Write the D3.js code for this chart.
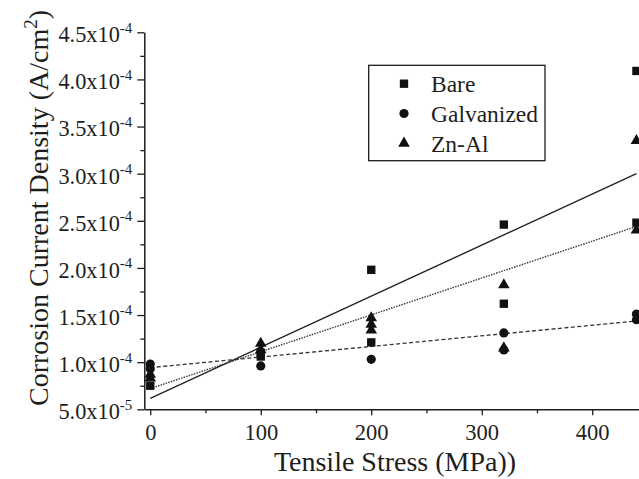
<!DOCTYPE html>
<html>
<head>
<meta charset="utf-8">
<script src="https://cdn.jsdelivr.net/npm/d3@7"></script>
<style>
  html, body { margin: 0; padding: 0; background: #fff; }
  svg text { font-family: "Liberation Serif", "Times New Roman", serif; }
</style>
</head>
<body>
<svg id="chart" width="639" height="479"></svg>
<script>
// Tensile stress (MPa) and measured corrosion current density (A/cm^2)
const bareStress = [0, 100, 100, 200, 200, 320, 320, 440, 440];
const bareDensity = [0.75e-4, 1.10e-4, 1.06e-4, 1.98e-4, 1.21e-4, 2.46e-4, 1.62e-4, 4.09e-4, 2.48e-4];

const galvStress = [0, 0, 100, 200, 320, 320, 440, 440];
const galvDensity = [0.98e-4, 0.93e-4, 0.96e-4, 1.03e-4, 1.31e-4, 1.13e-4, 1.51e-4, 1.45e-4];

const znalStress = [0, 0, 100, 100, 200, 200, 200, 320, 320, 440, 440];
const znalDensity = [0.87e-4, 0.83e-4, 1.20e-4, 1.13e-4, 1.47e-4, 1.40e-4, 1.34e-4, 1.82e-4, 1.15e-4, 3.35e-4, 2.40e-4];

// Linear fits, given at the two ends of the stress range
const fitStress = [0, 440];
const bareFit = [0.617e-4, 3.00e-4];
const galvFit = [0.942e-4, 1.437e-4];
const znalFit = [0.72e-4, 2.44e-4];

const seriesNames = ["Bare", "Galvanized", "Zn-Al"];

// Axis ticks
const xTicks = [0, 100, 200, 300, 400];
const xMinorTicks = [50, 150, 250, 350, 450];
const yTicks = [0.5e-4, 1.0e-4, 1.5e-4, 2.0e-4, 2.5e-4, 3.0e-4, 3.5e-4, 4.0e-4, 4.5e-4];
const yMinorTicks = [0.75e-4, 1.25e-4, 1.75e-4, 2.25e-4, 2.75e-4, 3.25e-4, 3.75e-4, 4.25e-4];

const serif = "'Liberation Serif', 'Times New Roman', serif";
const svg = d3.select("#chart");
const ink = "#1e1e1e";

const x = d3.scaleLinear().domain([-5.4, 455]).range([144.3, 653]);
const y = d3.scaleLinear().domain([0.5e-4, 4.5e-4]).range([409.3, 32.3]);

// ---- axes ----
const yAxis = svg.append("g")
  .attr("transform", `translate(${x.range()[0]},0)`)
  .call(d3.axisLeft(y).tickValues(yTicks).tickSize(7).tickSizeOuter(0).tickPadding(5).tickFormat(""));
const yMinor = svg.append("g")
  .attr("transform", `translate(${x.range()[0]},0)`)
  .call(d3.axisLeft(y).tickValues(yMinorTicks).tickSize(4).tickSizeOuter(0).tickFormat(""));

const xAxis = svg.append("g")
  .attr("transform", `translate(0,${y.range()[0]})`)
  .call(d3.axisBottom(x).tickValues(xTicks).tickSize(6).tickSizeOuter(0).tickPadding(9));
const xMinor = svg.append("g")
  .attr("transform", `translate(0,${y.range()[0]})`)
  .call(d3.axisBottom(x).tickValues(xMinorTicks).tickSize(4).tickSizeOuter(0).tickFormat(""));

[yAxis, yMinor, xAxis, xMinor].forEach(g => {
  g.attr("font-family", serif);
  g.selectAll("path.domain").attr("stroke", ink).attr("stroke-width", 1.5);
  g.selectAll(".tick line").attr("stroke", ink).attr("stroke-width", 1.3);
});
yMinor.select("path.domain").remove();
xMinor.select("path.domain").remove();

xAxis.selectAll(".tick text")
  .attr("fill", ink)
  .style("font-size", "22.5px");

// y tick labels in m.mx10^e form
yAxis.selectAll(".tick").each(function (d) {
  const e = Math.floor(Math.log10(d) + 1e-9);
  const m = (d / Math.pow(10, e)).toFixed(1);
  const t = d3.select(this).append("text")
    .attr("x", -12)
    .attr("dy", "0.42em")
    .attr("text-anchor", "end")
    .attr("fill", ink)
    .style("font-size", "22.3px");
  t.append("tspan").text(m + "x10");
  t.append("tspan").attr("dy", -9.5).style("font-size", "15px").text(String(e));
});

// ---- fit lines ----
const line = d3.line().x(d => x(d[0])).y(d => y(d[1]));
const fits = [
  { vals: galvFit, dash: "4,2.5", color: "#333", w: 1.3 },
  { vals: znalFit, dash: "1.6,1.1", color: "#444", w: 1.4 },
  { vals: bareFit, dash: null, color: "#222", w: 1.4 }
];
fits.forEach(f => {
  svg.append("path")
    .datum(fitStress.map((s, i) => [s, f.vals[i]]))
    .attr("d", line)
    .attr("fill", "none")
    .attr("stroke", f.color)
    .attr("stroke-width", f.w)
    .attr("stroke-dasharray", f.dash);
});

// ---- markers ----
const symbols = {
  "Bare": d3.symbol().type(d3.symbolSquare).size(70),
  "Galvanized": d3.symbol().type(d3.symbolCircle).size(66),
  "Zn-Al": d3.symbol().type(d3.symbolTriangle).size(58)
};
const series = [
  { name: "Galvanized", xs: galvStress, ys: galvDensity },
  { name: "Bare", xs: bareStress, ys: bareDensity },
  { name: "Zn-Al", xs: znalStress, ys: znalDensity }
];
series.forEach(s => {
  svg.append("g").selectAll("path")
    .data(s.xs.map((v, i) => [v, s.ys[i]]))
    .join("path")
    .attr("d", symbols[s.name]())
    .attr("transform", d => `translate(${x(d[0])},${y(d[1])})`)
    .attr("fill", "#111");
});

// ---- legend ----
const legend = svg.append("g").attr("transform", "translate(368.7,65.3)");
legend.append("rect")
  .attr("width", 176.3).attr("height", 95.4)
  .attr("fill", "#fff").attr("stroke", ink).attr("stroke-width", 1.3);
seriesNames.forEach((n, i) => {
  const row = legend.append("g").attr("transform", `translate(0,${18.4 + i * 29.8})`);
  row.append("path")
    .attr("d", symbols[n]())
    .attr("transform", "translate(35.3,0)")
    .attr("fill", "#111");
  row.append("text")
    .attr("x", 62.3)
    .attr("dy", "0.35em")
    .attr("fill", ink)
    .style("font-size", "23.5px")
    .text(n);
});

// ---- axis titles ----
svg.append("text")
  .attr("x", 395).attr("y", 471)
  .attr("text-anchor", "middle")
  .attr("fill", ink)
  .style("font-size", "28px")
  .text("Tensile Stress (MPa))");

const yTitle = svg.append("text")
  .attr("transform", "translate(48,208) rotate(-90)")
  .attr("text-anchor", "middle")
  .attr("fill", ink)
  .style("font-size", "28px");
yTitle.append("tspan").text("Corrosion Current Density (A/cm");
yTitle.append("tspan").attr("dy", -11).style("font-size", "19px").text("2");
yTitle.append("tspan").attr("dy", 11).text(")");

svg.selectAll("text").style("font-family", serif);
</script>
</body>
</html>
